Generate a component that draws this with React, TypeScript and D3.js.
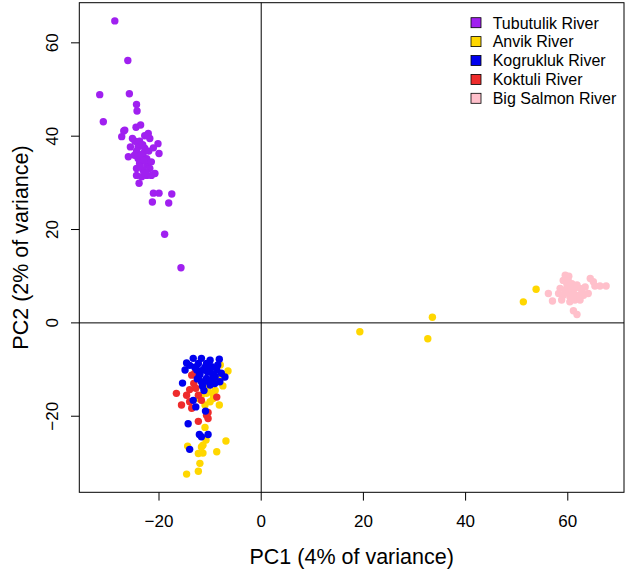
import React from "react";
import * as d3 from "d3";

const W = 628;
const H = 569;

const populations = ["Tubutulik River", "Anvik River", "Kogrukluk River", "Koktuli River", "Big Salmon River"];
const popColors = ["#A020F0", "#FFD700", "#0000EE", "#EE2C2C", "#FFC0CB"];

const tubutulik: [number, number][] = [
  [-28.65, 64.7], [-26.1, 56.2], [-31.6, 48.9], [-25.8, 49.1], [-24.4, 46.8], [-24.3, 45.4], [-30.9, 43.1],
  [-26.7, 41.3], [-27.3, 39.9], [-24.5, 41.9], [-23.6, 42.4], [-23.9, 29.9], [-21.1, 27.8], [-20.0, 27.8],
  [-17.5, 27.6], [-21.3, 25.9], [-18.1, 25.7], [-18.9, 19.0], [-15.7, 11.8],
  [-26.9, 41.1], [-22.1, 40.6], [-22.8, 40.1], [-21.8, 39.5], [-24.7, 38.9], [-23.8, 38.9], [-20.2, 38.4],
  [-25.6, 37.7], [-24.1, 37.7], [-22.8, 37.4], [-21.1, 37.5], [-20.0, 36.3], [-23.1, 36.3], [-24.4, 36.8],
  [-26.0, 35.6], [-24.1, 35.2], [-22.4, 35.2], [-23.8, 34.2], [-22.4, 33.8], [-21.5, 34.5], [-24.4, 33.1],
  [-23.1, 32.7], [-21.8, 33.1], [-20.8, 32.0], [-24.4, 31.6], [-23.4, 31.3], [-22.4, 31.6], [-21.5, 31.6],
  [-23.5, 36.0], [-22.9, 34.8], [-23.2, 38.2], [-24.8, 35.9], [-22.0, 36.8], [-23.7, 33.5], [-22.6, 32.2],
  [-25.2, 39.5],
];

const anvik: [number, number][] = [
  [53.8, 7.2], [51.3, 4.5], [33.5, 1.2], [19.3, -1.9], [32.6, -3.4],
  [-6.5, -10.3], [-7.4, -11.6], [-8.2, -17.6], [-11.0, -17.6], [-10.0, -16.9], [-9.4, -16.2], [-12.3, -16.2],
  [-11.7, -15.5], [-10.7, -15.1], [-11.4, -13.7], [-11.0, -22.4], [-10.8, -25.1], [-11.7, -26.6], [-11.4, -27.9],
  [-12.3, -28.0], [-6.9, -25.3], [-8.7, -27.6], [-14.4, -26.4], [-12.0, -30.1], [-12.3, -31.8], [-14.6, -32.4],
  [-8.0, -9.0], [-7.5, -13.5], [-9.0, -14.5], [-10.5, -14.0], [-9.5, -15.0], [-8.5, -12.0], [-11.4, -26.2],
];

const kogrukluk: [number, number][] = [
  [-14.6, -8.6], [-13.3, -7.6], [-11.7, -7.6], [-10.0, -8.0], [-8.2, -7.8], [-14.9, -10.1], [-14.0, -9.1],
  [-12.3, -8.7], [-10.7, -8.7], [-9.7, -9.4], [-11.4, -10.1], [-12.6, -10.1], [-8.7, -10.1], [-7.8, -10.8],
  [-7.1, -11.6], [-15.4, -12.9], [-12.1, -11.2], [-10.7, -11.9], [-9.7, -12.3], [-8.1, -12.6], [-11.7, -12.6],
  [-10.0, -13.3], [-9.1, -13.0], [-13.3, -16.6], [-12.8, -18.0], [-10.9, -18.9], [-14.3, -21.6], [-12.1, -23.9],
  [-10.4, -23.9], [-11.7, -24.4], [-14.0, -27.1],
  [-11.0, -9.5], [-12.0, -11.0], [-10.5, -10.5], [-9.5, -11.0], [-11.5, -13.5], [-10.5, -12.5], [-9.0, -11.5],
  [-12.5, -12.0], [-13.0, -9.5], [-10.0, -9.8], [-8.5, -9.0], [-11.2, -14.5],
];

const koktuli: [number, number][] = [
  [-16.6, -15.1], [-14.0, -14.3], [-14.6, -15.5], [-14.0, -16.9], [-13.6, -18.3], [-12.3, -15.5], [-11.7, -16.6],
  [-10.7, -19.8], [-10.4, -20.5], [-12.3, -21.1], [-8.7, -15.9], [-13.6, -11.2], [-13.0, -10.8], [-15.6, -17.6],
  [-10.4, -19.2], [-13.2, -13.0], [-12.8, -14.0],
];

const bigSalmon: [number, number][] = [
  [56.2, 6.3], [57.0, 4.7], [59.5, 10.2], [59.1, 9.1], [60.1, 9.0], [60.8, 8.4], [64.4, 9.5], [65.0, 8.8],
  [65.3, 7.9], [66.3, 7.9], [67.5, 7.9], [58.5, 7.4], [59.8, 7.4], [61.1, 7.0], [62.4, 7.4], [63.4, 7.7],
  [58.2, 6.3], [59.1, 5.9], [60.4, 5.6], [61.8, 5.9], [63.1, 5.9], [64.0, 6.3], [60.4, 4.5], [61.4, 4.9],
  [61.1, 2.6], [61.8, 1.8], [58.8, 4.9], [59.8, 8.4], [61.8, 8.1], [62.4, 4.9], [60.0, 6.5], [61.0, 6.0],
  [59.5, 7.0], [60.5, 8.0], [62.8, 6.5], [60.2, 10.0],
];

const drawOrder: { data: [number, number][]; pop: number }[] = [
  { data: tubutulik, pop: 0 },
  { data: anvik, pop: 1 },
  { data: koktuli, pop: 3 },
  { data: kogrukluk, pop: 2 },
  { data: bigSalmon, pop: 4 },
];

const xTicks = [-20, 0, 20, 40, 60];
const yTicks = [-20, 0, 20, 40, 60];
const xDomain = [-35.6, 71.0];
const yDomain = [-36.3, 68.6];
const xTitle = "PC1 (4% of variance)";
const yTitle = "PC2 (2% of variance)";

const FONT = "'Liberation Sans', Arial, Helvetica, sans-serif";

export default function App() {
  const left = 79.3, right = 624, top = 2.7, bottom = 492.3;
  const x = d3.scaleLinear().domain(xDomain).range([left, right]);
  const y = d3.scaleLinear().domain(yDomain).range([bottom, top]);
  const tick = 8.3;
  const fmt = (t: number) => (t < 0 ? "\u2212" + Math.abs(t) : String(t));

  return (
    <svg width={W} height={H} style={{ position: "absolute", left: 0, top: 0, background: "#fff" }}
      fontFamily={FONT}>
      <rect x={0} y={0} width={W} height={H} fill="#fff" />
      <line x1={x(0)} x2={x(0)} y1={top} y2={bottom} stroke="#000" strokeWidth={1} />
      <line x1={left} x2={right} y1={y(0)} y2={y(0)} stroke="#000" strokeWidth={1} />
      {drawOrder.map((g, gi) => (
        <g key={gi} fill={popColors[g.pop]}>
          {g.data.map((d, i) => (
            <circle key={i} cx={x(d[0])} cy={y(d[1])} r={3.7} />
          ))}
        </g>
      ))}
      <rect x={left} y={top} width={right - left} height={bottom - top} fill="none" stroke="#000" strokeWidth={1} />
      {xTicks.map((t) => (
        <g key={"x" + t}>
          <line x1={x(t)} x2={x(t)} y1={bottom} y2={bottom + tick} stroke="#000" />
          <text x={x(t)} y={526.7} fontSize={17} textAnchor="middle">{fmt(t)}</text>
        </g>
      ))}
      {yTicks.map((t) => (
        <g key={"y" + t}>
          <line x1={left - tick} x2={left} y1={y(t)} y2={y(t)} stroke="#000" />
          <text transform={`translate(58.3,${y(t)}) rotate(-90)`} fontSize={17} textAnchor="middle">{fmt(t)}</text>
        </g>
      ))}
      <text x={(left + right) / 2} y={564} fontSize={21.5} textAnchor="middle">{xTitle}</text>
      <text transform={`translate(28,${(top + bottom) / 2}) rotate(-90)`} fontSize={21.5} textAnchor="middle">{yTitle}</text>
      {populations.map((p, i) => {
        const cy = 22.7 + i * 18.9;
        return (
          <g key={p}>
            <rect x={471} y={cy - 5} width={10} height={10} fill={popColors[i]} stroke="#000" strokeWidth={0.8} />
            <text x={492.7} y={cy + 5.8} fontSize={16}>{p}</text>
          </g>
        );
      })}
    </svg>
  );
}
